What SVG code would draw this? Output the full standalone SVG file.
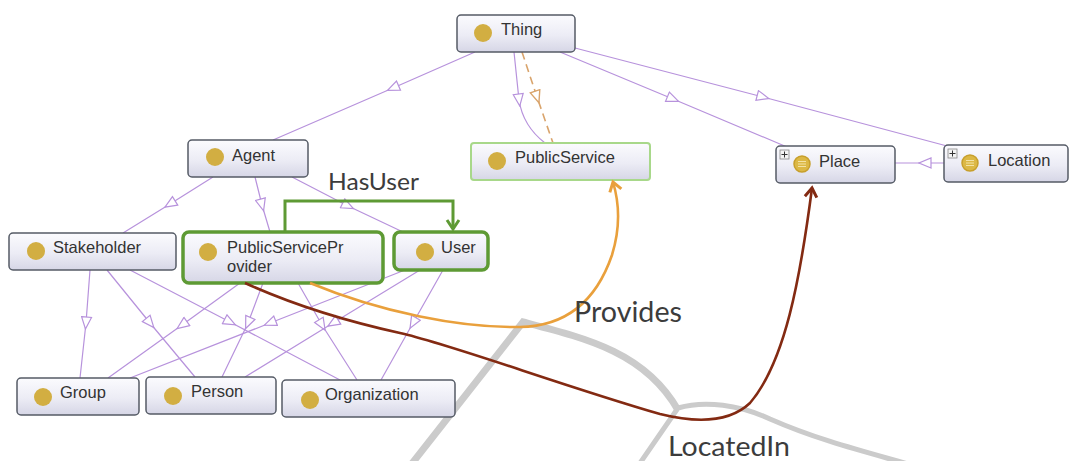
<svg xmlns="http://www.w3.org/2000/svg" width="1076" height="461" viewBox="0 0 1076 461">
<style>
.box{fill:url(#nodeGrad);stroke:#555b66;stroke-width:1.5}
.pub{fill:url(#nodeGrad);stroke:#a8d88a;stroke-width:2}
.sel{fill:url(#nodeGrad);stroke:#5e9a34;stroke-width:3.5}
.dot{fill:#d2ae42}
.def{fill:#dcb845;stroke:#c79f2c;stroke-width:1.5}
.lbl{font-family:"Liberation Sans",Arial,sans-serif;font-size:16.5px;fill:#333}
.rel{font-family:Lato,"Open Sans",sans-serif;fill:#3c3c3c}
.isa{fill:none;stroke:#b792dc;stroke-width:1.2;marker-mid:url(#tri)}
.gray{fill:none;stroke:#cbcbcb;stroke-linecap:butt}
.plus{fill:#f4f4f4;stroke:#888;stroke-width:0.8}
</style>
<defs>
<linearGradient id="nodeGrad" x1="0" y1="0" x2="0" y2="1">
<stop offset="0" stop-color="#fbfbfe"/>
<stop offset="0.55" stop-color="#ececf5"/>
<stop offset="1" stop-color="#d6d6e6"/>
</linearGradient>
<marker id="tri" viewBox="0 0 14 12" markerUnits="userSpaceOnUse" markerWidth="14" markerHeight="12" refX="7" refY="6" orient="auto">
<path d="M1,1 L13,6 L1,11 z" fill="#fff" stroke="#b792dc" stroke-width="1.2"/>
</marker>
<marker id="triDash" viewBox="0 0 14 12" markerUnits="userSpaceOnUse" markerWidth="14" markerHeight="12" refX="7" refY="6" orient="auto">
<path d="M1,1 L13,6 L1,11 z" fill="#fff" stroke="#d9a46c" stroke-width="1.4"/>
</marker>
<marker id="arrGreen" viewBox="-2 -2 14 16" markerUnits="userSpaceOnUse" markerWidth="14" markerHeight="16" refX="9" refY="6" orient="auto">
<path d="M0,0 L9,6 L0,12" fill="none" stroke="#5e9a34" stroke-width="3"/>
</marker>
<marker id="arrOrange" viewBox="-2 -2 14 16" markerUnits="userSpaceOnUse" markerWidth="14" markerHeight="16" refX="9" refY="6" orient="auto">
<path d="M0,0 L9,6 L0,12" fill="none" stroke="#e9a03c" stroke-width="3"/>
</marker>
<marker id="arrBrown" viewBox="-2 -2 14 16" markerUnits="userSpaceOnUse" markerWidth="14" markerHeight="16" refX="9" refY="6" orient="auto">
<path d="M0,0 L9,6 L0,12" fill="none" stroke="#832a12" stroke-width="3"/>
</marker>
</defs>
<rect width="1076" height="461" fill="#fff"/>
<g id="background">
<path class="gray" stroke-width="7" d="M410,466 L523,322 C 585,338 645,352 678,410"/>
<path class="gray" stroke-width="5" d="M638,466 L678,408 C 705,400 740,405 770,419 C 820,441 870,453 915,466"/>
</g>
<g id="connectors">
<path class="isa" d="M475,52 L393,88 L273,140"/>
<path class="isa" d="M514,52 L519,100 Q523,126 545,143"/>
<path d="M522,52 L537,97 L553,143" fill="none" stroke="#d9a46c" stroke-width="1.6" stroke-dasharray="8,5" marker-mid="url(#triDash)"/>
<path class="isa" d="M560,52 L673,99 L787,147"/>
<path class="isa" d="M575,48 L763,97 L947,146"/>
<path class="isa" d="M944,163 L925,163 L895,163"/>
<path class="isa" d="M213,177 L170,204 L123,233"/>
<path class="isa" d="M255,177 L262,205 L270,232"/>
<path class="isa" d="M292,177 L348,206 L403,232"/>
<path class="isa" d="M90,270 L86,323 L80,378"/>
<path class="isa" d="M107,270 L150,323 L195,377"/>
<path class="isa" d="M130,270 L230,322 L340,380"/>
<path class="isa" d="M240,283 L182,325 L108,378"/>
<path class="isa" d="M263,283 L248,323 L222,377"/>
<path class="isa" d="M298,283 L322,325 L357,380"/>
<path class="isa" d="M405,270 L270,323 L130,378"/>
<path class="isa" d="M420,270 L333,323 L245,377"/>
<path class="isa" d="M443,270 L413,323 L381,380"/>
</g>
<g id="thing">
<rect class="box" x="457" y="15" width="118" height="37" rx="4"/>
<circle class="dot" cx="483" cy="33" r="9"/>
<text class="lbl" x="501" y="35">Thing</text>
</g>
<g id="publicservice">
<rect class="pub" x="471" y="143" width="179" height="37" rx="3"/>
<circle class="dot" cx="497" cy="161" r="9"/>
<text class="lbl" x="515" y="163">PublicService</text>
</g>
<g id="agent">
<rect class="box" x="188" y="140" width="120" height="37" rx="4"/>
<circle class="dot" cx="215" cy="157" r="9"/>
<text class="lbl" x="232" y="161">Agent</text>
</g>
<g id="stakeholder">
<rect class="box" x="9" y="233" width="167" height="37" rx="4"/>
<circle class="dot" cx="36" cy="251" r="9"/>
<text class="lbl" x="53" y="253">Stakeholder</text>
</g>
<g id="publicserviceprovider">
<rect class="sel" x="183" y="232" width="200" height="51" rx="6"/>
<circle class="dot" cx="208" cy="252" r="9"/>
<text class="lbl" x="227" y="253">PublicServicePr</text>
<text class="lbl" x="227" y="272">ovider</text>
</g>
<g id="user">
<rect class="sel" x="394" y="232" width="94" height="38" rx="6"/>
<circle class="dot" cx="425" cy="252" r="9"/>
<text class="lbl" x="441" y="253">User</text>
</g>
<g id="group">
<rect class="box" x="17" y="378" width="122" height="37" rx="4"/>
<circle class="dot" cx="43" cy="397" r="9"/>
<text class="lbl" x="60" y="398">Group</text>
</g>
<g id="person">
<rect class="box" x="146" y="377" width="130" height="37" rx="4"/>
<circle class="dot" cx="173" cy="396" r="9"/>
<text class="lbl" x="191" y="397">Person</text>
</g>
<g id="organization">
<rect class="box" x="282" y="380" width="173" height="37" rx="4"/>
<circle class="dot" cx="310" cy="400" r="9"/>
<text class="lbl" x="325" y="400">Organization</text>
</g>
<g id="place">
<rect class="box" x="776" y="146" width="119" height="37" rx="4"/>
<rect class="plus" x="780" y="150" width="9" height="9"/>
<path d="M781.5,154.5 H787.5 M784.5,151.5 V157.5" stroke="#333" stroke-width="1"/>
<circle class="def" cx="802" cy="164" r="8"/>
<path d="M798,161.5 H806 M798,164 H806 M798,166.5 H806" stroke="#f3e3a6" stroke-width="1"/>
<text class="lbl" x="819" y="167">Place</text>
</g>
<g id="location">
<rect class="box" x="944" y="145" width="124" height="37" rx="4"/>
<rect class="plus" x="948" y="149" width="9" height="9"/>
<path d="M949.5,153.5 H955.5 M952.5,150.5 V156.5" stroke="#333" stroke-width="1"/>
<circle class="def" cx="970" cy="163" r="8"/>
<path d="M966,160.5 H974 M966,163 H974 M966,165.5 H974" stroke="#f3e3a6" stroke-width="1"/>
<text class="lbl" x="988" y="166">Location</text>
</g>
<g id="relations">
<path d="M285,232 L285,201 L453,201 L453,229" fill="none" stroke="#5e9a34" stroke-width="3" marker-end="url(#arrGreen)"/>
<path d="M310,283 C 380,312 460,328 520,327 C 575,326 600,290 612,255 C 621,226 619,202 613,182" fill="none" stroke="#e9a03c" stroke-width="2.6" marker-end="url(#arrOrange)"/>
<path d="M245,283 C 300,308 350,322 400,333 S 560,385 660,414 C 700,424 730,422 750,403 C 785,362 800,280 812,188" fill="none" stroke="#832a12" stroke-width="2.6" marker-end="url(#arrBrown)"/>
</g>
<g id="labels">
<text class="rel" x="328" y="190" font-size="24" textLength="91" lengthAdjust="spacingAndGlyphs">HasUser</text>
<text class="rel" x="574" y="322" font-size="28" textLength="108" lengthAdjust="spacingAndGlyphs">Provides</text>
<text class="rel" x="668" y="456" font-size="27" textLength="122" lengthAdjust="spacingAndGlyphs">LocatedIn</text>
</g>
</svg>
